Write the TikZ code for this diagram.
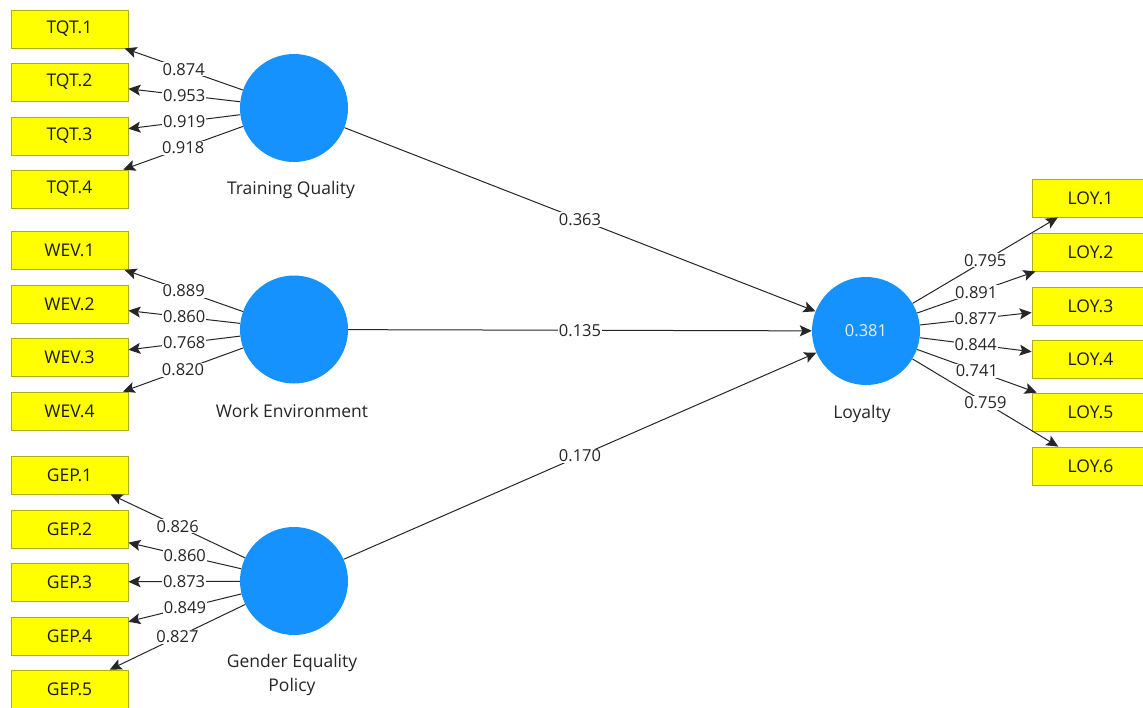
\documentclass[tikz,border=0pt]{standalone}
\usepackage{fontspec}
\setmainfont{Open Sans}
\usetikzlibrary{arrows.meta}
\definecolor{lvblue}{RGB}{22,146,255}
\definecolor{indyellow}{RGB}{255,255,0}
\definecolor{indborder}{RGB}{175,175,20}
\tikzset{
  ind/.style={draw=indborder, fill=indyellow, line width=0.8pt,
    minimum width=117pt, minimum height=38pt, inner sep=0pt,
    font=\fontsize{17.5}{20}\selectfont, text=black!90},
  lv/.style={circle, fill=lvblue, minimum size=108pt, inner sep=0pt},
  lvname/.style={font=\fontsize{17.5}{24}\selectfont, text=black!85, align=center},
  path/.style={draw=black!85, line width=1pt, -{Stealth[length=12pt,width=11pt,inset=2.5pt]}},
  coef/.style={fill=white, inner sep=1pt, font=\fontsize{16.5}{18}\selectfont, text=black!85}
}
\begin{document}
\begin{tikzpicture}[x=1pt, y=-1pt]
  \useasboundingbox (0,0) rectangle (1143,707);
  \clip (0,0) rectangle (1143,707);
  \fill[white] (0,0) rectangle (1143,707);

  % latent variables
  \node[lv] (tq) at (294,108) {};
  \node[lv] (we) at (294,329.5) {};
  \node[lv] (ge) at (294,581) {};
  \node[lv, text=white!92!black, font=\fontsize{16.5}{18}\selectfont] (loy) at (866,331) {0.381};

  \node[lvname] (tqn) at (291,190) {Training Quality};
  \node[lvname] (wen) at (292,411) {Work Environment};
  \node[lvname] (gen) at (292,675) {Gender Equality\\Policy};
  \node[lvname] (loyn) at (862,414) {Loyalty};

  % indicators
  \node[ind] (tqt1) at (69.5,29) {TQT.1};
  \node[ind] (tqt2) at (69.5,82) {TQT.2};
  \node[ind] (tqt3) at (69.5,136) {TQT.3};
  \node[ind] (tqt4) at (69.5,189) {TQT.4};

  \node[ind] (wev1) at (69.5,250.5) {WEV.1};
  \node[ind] (wev2) at (69.5,304) {WEV.2};
  \node[ind] (wev3) at (69.5,357) {WEV.3};
  \node[ind] (wev4) at (69.5,411) {WEV.4};

  \node[ind] (gep1) at (69.5,475) {GEP.1};
  \node[ind] (gep2) at (69.5,529) {GEP.2};
  \node[ind] (gep3) at (69.5,582) {GEP.3};
  \node[ind] (gep4) at (69.5,636) {GEP.4};
  \node[ind] (gep5) at (69.5,689) {GEP.5};

  \node[ind] (loy1) at (1090.5,198) {LOY.1};
  \node[ind] (loy2) at (1090.5,252) {LOY.2};
  \node[ind] (loy3) at (1090.5,306) {LOY.3};
  \node[ind] (loy4) at (1090.5,359) {LOY.4};
  \node[ind] (loy5) at (1090.5,412) {LOY.5};
  \node[ind] (loy6) at (1090.5,466) {LOY.6};

  % outer loadings
  \draw[path] (tq) -- node[coef] {0.874} (tqt1);
  \draw[path] (tq) -- node[coef] {0.953} (tqt2);
  \draw[path] (tq) -- node[coef] {0.919} (tqt3);
  \draw[path] (tq) -- node[coef] {0.918} (tqt4);

  \draw[path] (we) -- node[coef] {0.889} (wev1);
  \draw[path] (we) -- node[coef] {0.860} (wev2);
  \draw[path] (we) -- node[coef] {0.768} (wev3);
  \draw[path] (we) -- node[coef] {0.820} (wev4);

  \draw[path] (ge) -- node[coef] {0.826} (gep1);
  \draw[path] (ge) -- node[coef] {0.860} (gep2);
  \draw[path] (ge) -- node[coef] {0.873} (gep3);
  \draw[path] (ge) -- node[coef] {0.849} (gep4);
  \draw[path] (ge) -- node[coef] {0.827} (gep5);

  \draw[path] (loy) -- node[coef] {0.795} (loy1);
  \draw[path] (loy) -- node[coef] {0.891} (loy2);
  \draw[path] (loy) -- node[coef] {0.877} (loy3);
  \draw[path] (loy) -- node[coef] {0.844} (loy4);
  \draw[path] (loy) -- node[coef] {0.741} (loy5);
  \draw[path] (loy) -- node[coef] {0.759} (loy6);

  % structural paths
  \draw[path] (tq) -- node[coef] {0.363} (loy);
  \draw[path] (we) -- node[coef] {0.135} (loy);
  \draw[path] (ge) -- node[coef] {0.170} (loy);
\end{tikzpicture}
\end{document}
